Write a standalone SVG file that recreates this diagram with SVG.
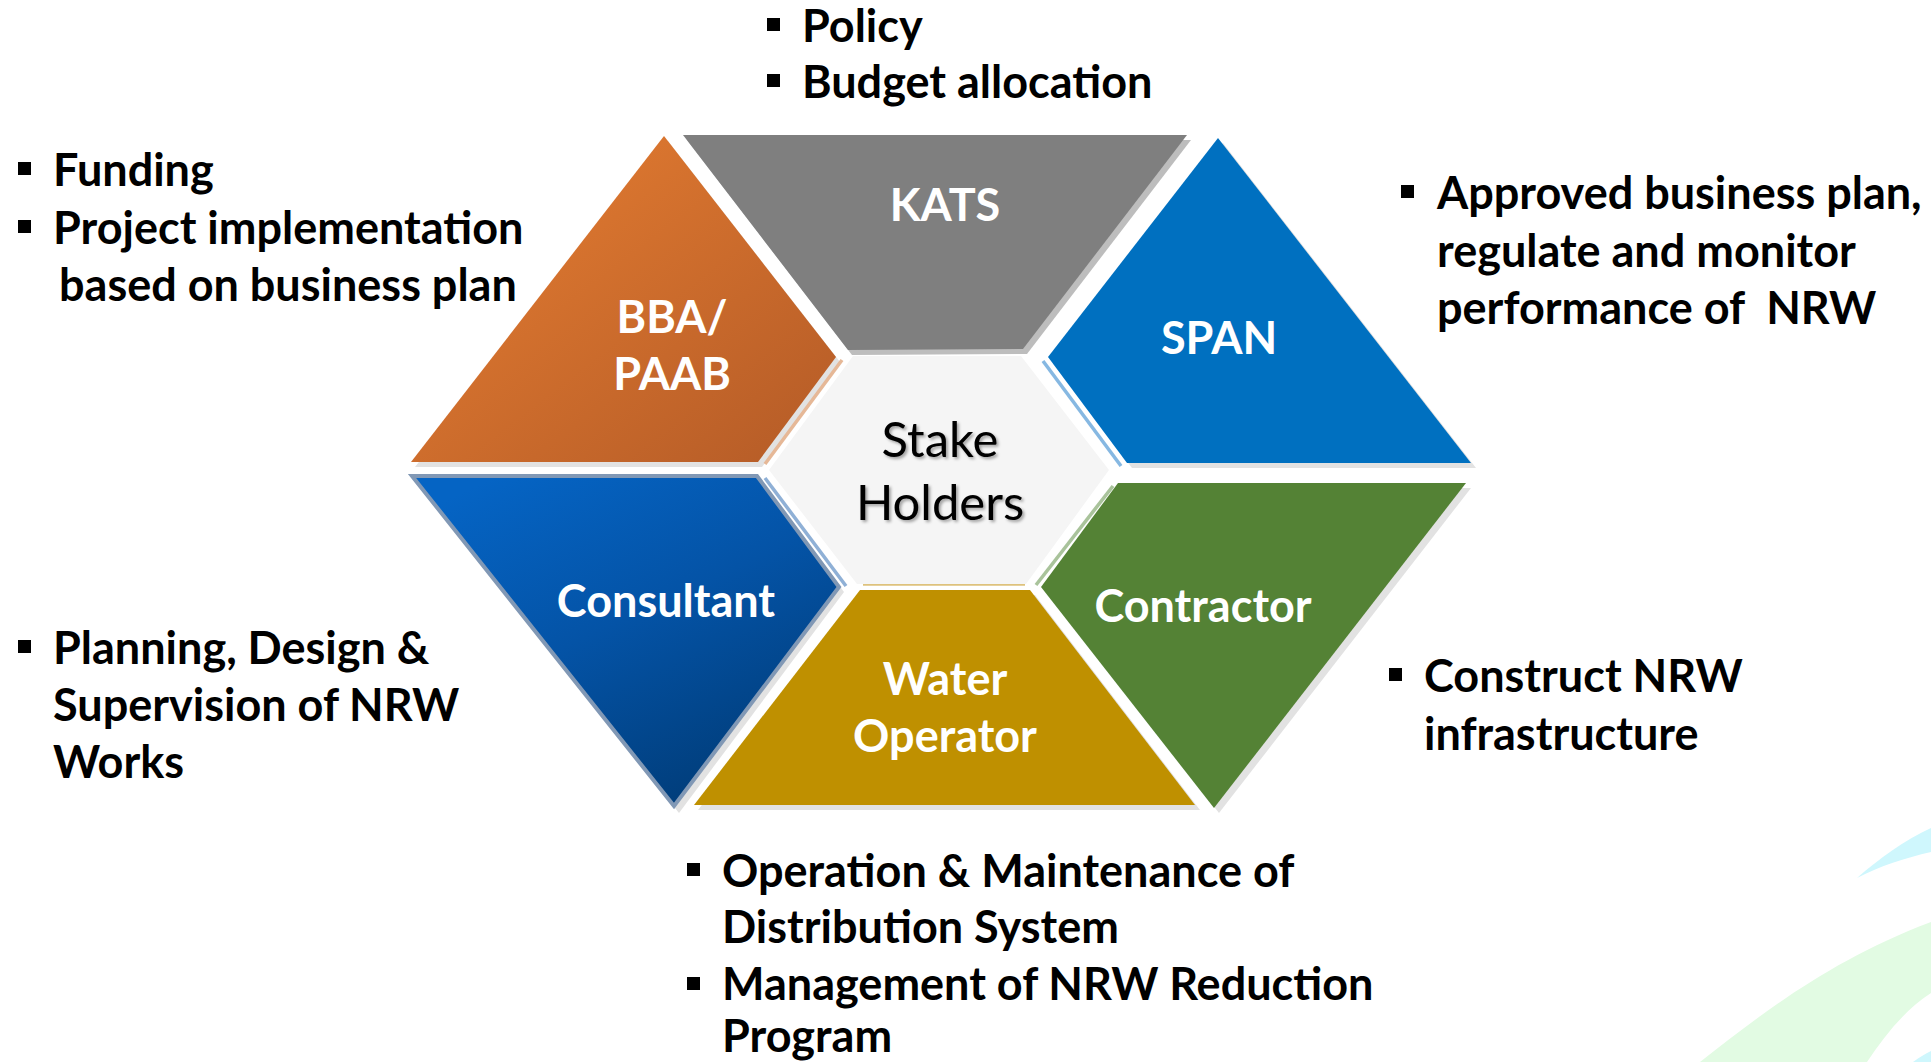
<svg xmlns="http://www.w3.org/2000/svg" width="1931" height="1062" viewBox="0 0 1931 1062">
<defs>
<style>
.t{font-family:Lato,"Liberation Sans",sans-serif;font-weight:700;font-size:45px;fill:#000}
.lbl{font-family:Lato,"Liberation Sans",sans-serif;font-weight:700;font-size:45px;fill:#fff;text-anchor:middle}
.ctr{font-family:Lato,"Liberation Sans",sans-serif;font-weight:400;font-size:49px;fill:#000;text-anchor:middle}
.sh{fill:#e2e2e2}
.blt{fill:#000}
.ref{fill:none;stroke-width:3.5}
</style>
<linearGradient id="gBBA" x1="0" y1="0" x2="1" y2="1">
<stop offset="0" stop-color="#e87f32"/>
<stop offset="1" stop-color="#b45b27"/>
</linearGradient>
<linearGradient id="gCons" x1="0.2" y1="0" x2="0.8" y2="1">
<stop offset="0" stop-color="#0564c4"/>
<stop offset="0.45" stop-color="#0453a6"/>
<stop offset="1" stop-color="#003a74"/>
</linearGradient>
<filter id="tsh" x="-10%" y="-20%" width="130%" height="150%">
<feDropShadow dx="2" dy="2" stdDeviation="1.5" flood-color="#000" flood-opacity="0.35"/>
</filter>
</defs>
<rect width="1931" height="1062" fill="#fff"/>
<g id="background">
<path d="M1857,878 C1880,858 1905,840 1931,828 L1931,852 C1905,858 1880,866 1857,878 Z" fill="#cff7fd"/>
<path d="M1700,1062 C1760,1015 1830,960 1931,922 L1931,993 C1905,1010 1885,1035 1867,1062 Z" fill="#e2fbe3"/>
<path d="M1913,1062 C1920,1057 1925,1054 1931,1051 L1931,1062 Z" fill="#cff7fd"/>
</g>
<g id="connectors"></g>
<g id="node-kats">
<polygon points="687,140 1191,140 1027,354 852,355" fill="#bdbdbd"/>
<polygon points="683,135 1187,135 1023,349 848,350" fill="#7f7f7f"/>
<text class="lbl" x="945" y="221">KATS</text>
</g>
<g id="node-bba">
<polygon class="sh" points="668,141 840,362 762,467 415,467"/>
<polygon points="664,136 836,357 758,462 411,462" fill="url(#gBBA)"/>
<line class="ref" x1="842" y1="360" x2="765" y2="464" stroke="#e6b897"/>
<text class="lbl" x="672" y="333">BBA/</text>
<text class="lbl" x="672" y="390">PAAB</text>
</g>
<g id="node-span">
<polygon class="sh" points="1223,143 1476,468 1132,468 1053,362"/>
<polygon points="1218,138 1471,463 1127,463 1048,357" fill="#0070c0"/>
<line class="ref" x1="1043" y1="361" x2="1121" y2="466" stroke="#86b8e2"/>
<text class="lbl" x="1219" y="354">SPAN</text>
</g>
<g id="node-contractor">
<polygon class="sh" points="1123,488 1471,488 1219,813 1046,592"/>
<polygon points="1118,483 1466,483 1214,808 1041,587" fill="#548235"/>
<line class="ref" x1="1113" y1="486" x2="1036" y2="585" stroke="#a9c39b" stroke-width="4"/>
<text class="lbl" x="1203" y="622">Contractor</text>
</g>
<g id="node-water">
<polygon class="sh" points="864,595 1035,595 1200,810 698,810"/>
<polygon points="860,590 1030,590 1195,805 694,805" fill="#bf9000"/>
<line class="ref" x1="863" y1="584" x2="1025" y2="584" stroke="#dec27c"/>
<text class="lbl" x="945" y="695">Water</text>
<text class="lbl" x="945" y="752">Operator</text>
</g>
<g id="node-consultant">
<polygon class="sh" points="416,481 762,481 844,592 679,813"/>
<polygon points="412,476 757,476 839,587 674,806" fill="url(#gCons)" stroke="#8198b5" stroke-width="4" stroke-linejoin="miter"/>
<line class="ref" x1="765" y1="478" x2="846" y2="586" stroke="#8fb0d6"/>
<text class="lbl" x="666" y="617">Consultant</text>
</g>
<g id="node-center">
<polygon points="853,356 1021,356 1109,470 1026,584 857,584 769,470" fill="#f5f5f5"/>
<g filter="url(#tsh)">
<text class="ctr" x="940" y="457">Stake</text>
<text class="ctr" x="940" y="520">Holders</text>
</g>
</g>
<g id="note-kats">
<rect class="blt" x="767" y="18" width="13" height="13"/>
<text class="t" x="802" y="42">Policy</text>
<rect class="blt" x="767" y="74" width="13" height="13"/>
<text class="t" x="802" y="98">Budget allocation</text>
</g>
<g id="note-bba">
<rect class="blt" x="18" y="162" width="13" height="13"/>
<text class="t" x="53" y="186">Funding</text>
<rect class="blt" x="18" y="220" width="13" height="13"/>
<text class="t" x="53" y="244">Project implementation</text>
<text class="t" x="59" y="301">based on business plan</text>
</g>
<g id="note-span">
<rect class="blt" x="1401" y="185" width="13" height="13"/>
<text class="t" x="1437" y="209">Approved business plan,</text>
<text class="t" x="1437" y="267">regulate and monitor</text>
<text class="t" x="1437" y="324" xml:space="preserve">performance of  NRW</text>
</g>
<g id="note-consultant">
<rect class="blt" x="18" y="640" width="13" height="13"/>
<text class="t" x="53" y="664">Planning, Design &amp;</text>
<text class="t" x="53" y="721">Supervision of NRW</text>
<text class="t" x="53" y="778">Works</text>
</g>
<g id="note-contractor">
<rect class="blt" x="1389" y="668" width="13" height="13"/>
<text class="t" x="1424" y="692">Construct NRW</text>
<text class="t" x="1424" y="750">infrastructure</text>
</g>
<g id="note-water">
<rect class="blt" x="687" y="863" width="13" height="13"/>
<text class="t" x="722" y="887">Operation &amp; Maintenance of</text>
<text class="t" x="722" y="943">Distribution System</text>
<rect class="blt" x="687" y="977" width="13" height="13"/>
<text class="t" x="722" y="1000">Management of NRW Reduction</text>
<text class="t" x="722" y="1052">Program</text>
</g>
</svg>
